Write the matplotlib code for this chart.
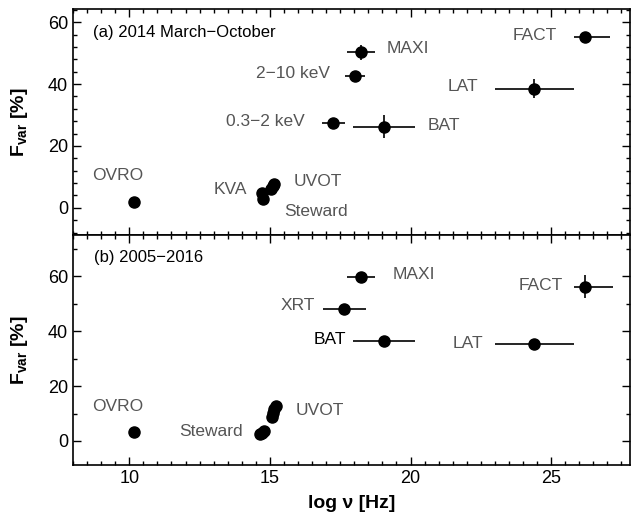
import matplotlib
matplotlib.use('Agg')
import matplotlib.pyplot as plt
from matplotlib.ticker import MultipleLocator

plt.rcParams['font.family'] = ['Liberation Sans', 'DejaVu Sans']
plt.rcParams['mathtext.fontset'] = 'custom'
plt.rcParams['mathtext.rm'] = 'Liberation Sans'
plt.rcParams['mathtext.bf'] = 'Liberation Sans:bold'

GRIS = '#555555'

# --- panel (a) 2014 March-October ---
a_nom = ['OVRO', 'KVA', 'Steward', 'UVOT', 'UVOT', 'UVOT',
         '0.3-2 keV', '2-10 keV', 'MAXI', 'BAT', 'LAT', 'FACT']
a_x = [10.18, 14.72, 14.75, 15.05, 15.1, 15.15, 17.26, 18.03, 18.23, 19.04, 24.4, 26.22]
a_y = [1.9, 4.8, 2.8, 6.0, 7.0, 7.8, 27.4, 42.5, 50.2, 26.2, 38.5, 55.3]
a_xerr_lo = [0, 0, 0, 0, 0, 0, 0.4, 0.36, 0.49, 1.1, 1.4, 0.4]
a_xerr_hi = [0, 0, 0, 0, 0, 0, 0.4, 0.36, 0.49, 1.13, 1.4, 0.86]
a_yerr = [0.3, 0.5, 0.4, 0.3, 0.3, 0.3, 0.5, 0.6, 2.4, 3.7, 3.0, 0.6]

# --- panel (b) 2005-2016 ---
b_nom = ['OVRO', 'Steward', 'Steward', 'Steward', 'UVOT', 'UVOT', 'UVOT', 'UVOT',
         'XRT', 'MAXI', 'BAT', 'LAT', 'FACT']
b_x = [10.18, 14.66, 14.72, 14.78, 15.07, 15.1, 15.15, 15.2, 17.64, 18.23, 19.04, 24.4, 26.22]
b_y = [3.4, 2.6, 3.0, 3.5, 8.8, 10.3, 11.8, 12.8, 47.9, 59.7, 36.4, 35.3, 56.1]
b_xerr_lo = [0, 0, 0, 0, 0, 0, 0, 0, 0.76, 0.49, 1.1, 1.4, 0.4]
b_xerr_hi = [0, 0, 0, 0, 0, 0, 0, 0, 0.78, 0.49, 1.13, 1.4, 0.98]
b_yerr = [0.3, 0.3, 0.3, 0.3, 0.3, 0.3, 0.3, 0.3, 0.6, 0.6, 0.6, 0.6, 4.2]

fig = plt.figure(figsize=(6.35, 5.2), dpi=100)
ax1 = fig.add_axes([0.115, 0.548, 0.877, 0.435])
ax2 = fig.add_axes([0.115, 0.106, 0.877, 0.442], sharex=ax1)

def dessine(ax, x, y, xlo, xhi, yerr):
    ax.errorbar(x, y, xerr=[xlo, xhi], yerr=yerr, fmt='o', color='black',
                markersize=8, elinewidth=1.2, capsize=0, zorder=3)

dessine(ax1, a_x, a_y, a_xerr_lo, a_xerr_hi, a_yerr)
dessine(ax2, b_x, b_y, b_xerr_lo, b_xerr_hi, b_yerr)

ax1.set_ylim(-8.8, 64.3)
ax2.set_ylim(-8.7, 75)
ax1.set_xlim(8, 27.8)

for ax in (ax1, ax2):
    ax.xaxis.set_major_locator(MultipleLocator(5))
    ax.xaxis.set_minor_locator(MultipleLocator(0.5))
    ax.yaxis.set_major_locator(MultipleLocator(20))
    ax.tick_params(which='both', direction='in', top=True, right=True,
                   labelsize=13, width=1)
    ax.tick_params(which='major', length=6)
    ax.tick_params(which='minor', length=3)
    for s in ax.spines.values():
        s.set_linewidth(1.2)
    ax.set_ylabel(r'$\mathbf{F_{var}}$ [%]', fontsize=14, fontweight='bold', labelpad=13)
ax1.yaxis.set_minor_locator(MultipleLocator(4))
ax2.yaxis.set_minor_locator(MultipleLocator(10))
ax1.tick_params(labelbottom=False)
ax2.set_xlabel('log ν [Hz]', fontsize=14, fontweight='bold', labelpad=6)

fs = 12.5
# panel (a) labels
ax1.text(8.7, 56.6, '(a) 2014 March\u2212October', fontsize=12, va='center', ha='left')
ax1.text(19.15, 51.5, 'MAXI', fontsize=fs, color=GRIS, va='center', ha='left')
ax1.text(17.15, 43.3, '2\u221210 keV', fontsize=fs, color=GRIS, va='center', ha='right')
ax1.text(16.25, 28.0, '0.3\u22122 keV', fontsize=fs, color=GRIS, va='center', ha='right')
ax1.text(20.6, 26.6, 'BAT', fontsize=fs, color=GRIS, va='center', ha='left')
ax1.text(22.4, 39.3, 'LAT', fontsize=fs, color=GRIS, va='center', ha='right')
ax1.text(25.2, 55.6, 'FACT', fontsize=fs, color=GRIS, va='center', ha='right')
ax1.text(9.6, 10.3, 'OVRO', fontsize=fs, color=GRIS, va='center', ha='center')
ax1.text(14.2, 6.0, 'KVA', fontsize=fs, color=GRIS, va='center', ha='right')
ax1.text(15.85, 8.5, 'UVOT', fontsize=fs, color=GRIS, va='center', ha='left')
ax1.text(15.5, -1.1, 'Steward', fontsize=fs, color=GRIS, va='center', ha='left')

# panel (b) labels
ax2.text(8.75, 66.7, '(b) 2005\u22122016', fontsize=12, va='center', ha='left')
ax2.text(19.35, 60.7, 'MAXI', fontsize=fs, color=GRIS, va='center', ha='left')
ax2.text(16.6, 49.2, 'XRT', fontsize=fs, color=GRIS, va='center', ha='right')
ax2.text(17.7, 36.9, 'BAT', fontsize=fs, color='black', va='center', ha='right')
ax2.text(22.6, 35.5, 'LAT', fontsize=fs, color=GRIS, va='center', ha='right')
ax2.text(25.4, 56.5, 'FACT', fontsize=fs, color=GRIS, va='center', ha='right')
ax2.text(9.6, 12.6, 'OVRO', fontsize=fs, color=GRIS, va='center', ha='center')
ax2.text(14.05, 3.6, 'Steward', fontsize=fs, color=GRIS, va='center', ha='right')
ax2.text(15.9, 11.2, 'UVOT', fontsize=fs, color=GRIS, va='center', ha='left')

fig.align_ylabels([ax1, ax2])
fig.savefig('out.png', dpi=100)
